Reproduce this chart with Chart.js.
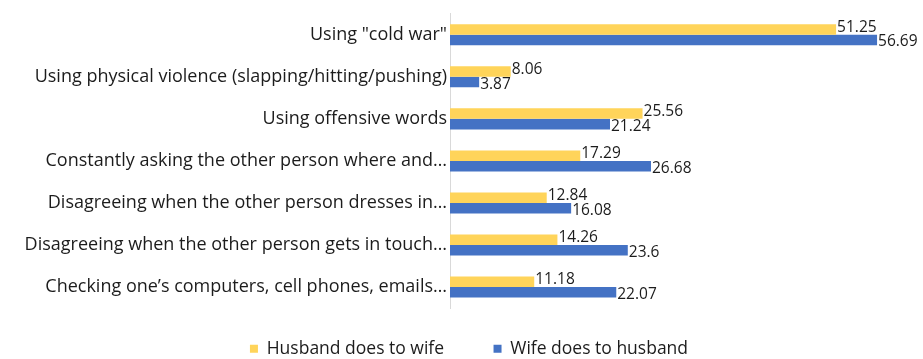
<!DOCTYPE html>
<html>
<head>
<meta charset="utf-8">
<script src="https://cdn.jsdelivr.net/npm/chart.js@4.4.1/dist/chart.umd.min.js"></script>
<style>
  html, body { margin: 0; padding: 0; background: #fff; }
  #wrap { width: 923px; height: 359px; }
</style>
</head>
<body>
<div id="wrap"><canvas id="myChart" width="923" height="359"></canvas></div>
<script>
var categories = [
    'Using "cold war"',
    'Using physical violence (slapping/hitting/pushing)',
    'Using offensive words',
    'Constantly asking the other person where and\u2026',
    'Disagreeing when the other person dresses in\u2026',
    'Disagreeing when the other person gets in touch\u2026',
    'Checking one\u2019s computers, cell phones, emails\u2026'
];
var husbandToWife = [51.25, 8.06, 25.56, 17.29, 12.84, 14.26, 11.18];
var wifeToHusband = [56.69, 3.87, 21.24, 26.68, 16.08, 23.6, 22.07];
var seriesNames = ['Husband does to wife', 'Wife does to husband'];
var seriesColors = ['#FFD45A', '#4472C4'];

var fontFamily = '"Open Sans", "Noto Sans", sans-serif';
var textColor = '#1c1c1c';

// nudges the legend box a bit to the right of the padded box centre
var legendNudge = {
    id: 'legendNudge',
    afterUpdate: function (chart) {
        chart.$legendNudged = false;
    },
    beforeDraw: function (chart) {
        if (chart.$legendNudged) return;
        chart.legend.left += 18;
        chart.legend.right += 18;
        chart.$legendNudged = true;
    }
};

// value text at the end of every bar
var barValueLabels = {
    id: 'barValueLabels',
    afterDatasetsDraw: function (chart) {
        var ctx = chart.ctx;
        ctx.save();
        ctx.font = '15.5px ' + fontFamily;
        ctx.fillStyle = textColor;
        ctx.textAlign = 'left';
        ctx.textBaseline = 'middle';
        chart.data.datasets.forEach(function (ds, i) {
            var meta = chart.getDatasetMeta(i);
            meta.data.forEach(function (bar, j) {
                var dy = i === 0 ? -2 : 2;
                ctx.fillText(String(ds.data[j]), bar.x + 1, bar.y + dy);
            });
        });
        ctx.restore();
    }
};

var ctx = document.getElementById('myChart').getContext('2d');
new Chart(ctx, {
    type: 'bar',
    data: {
        labels: categories,
        datasets: [{
            label: seriesNames[0],
            data: husbandToWife,
            backgroundColor: seriesColors[0],
            borderWidth: 0
        }, {
            label: seriesNames[1],
            data: wifeToHusband,
            backgroundColor: seriesColors[1],
            borderWidth: 0
        }]
    },
    options: {
        indexAxis: 'y',
        responsive: false,
        animation: false,
        maintainAspectRatio: false,
        layout: {
            padding: { top: 10, right: 21, bottom: -8.5, left: 0 }
        },
        datasets: {
            bar: {
                categoryPercentage: 0.5,
                barPercentage: 1.0
            }
        },
        scales: {
            x: {
                display: false,
                min: 0,
                max: 60
            },
            y: {
                grid: { display: false, drawTicks: false },
                border: { display: true, color: '#d9d9d9', width: 1 },
                afterFit: function (scale) {
                    scale.width = 450;
                },
                ticks: {
                    padding: 3,
                    color: textColor,
                    font: { family: fontFamily, size: 18 }
                }
            }
        },
        plugins: {
            tooltip: { enabled: false },
            legend: {
                position: 'bottom',
                labels: {
                    boxWidth: 8,
                    boxHeight: 8,
                    padding: 32,
                    color: textColor,
                    font: { family: fontFamily, size: 17.5 },
                    generateLabels: function (chart) {
                        var items = Chart.defaults.plugins.legend.labels.generateLabels(chart);
                        // a little more room between the two entries
                        items[0].text += '\u2002\u2002';
                        return items;
                    }
                }
            }
        }
    },
    plugins: [legendNudge, barValueLabels]
});
</script>
</body>
</html>
